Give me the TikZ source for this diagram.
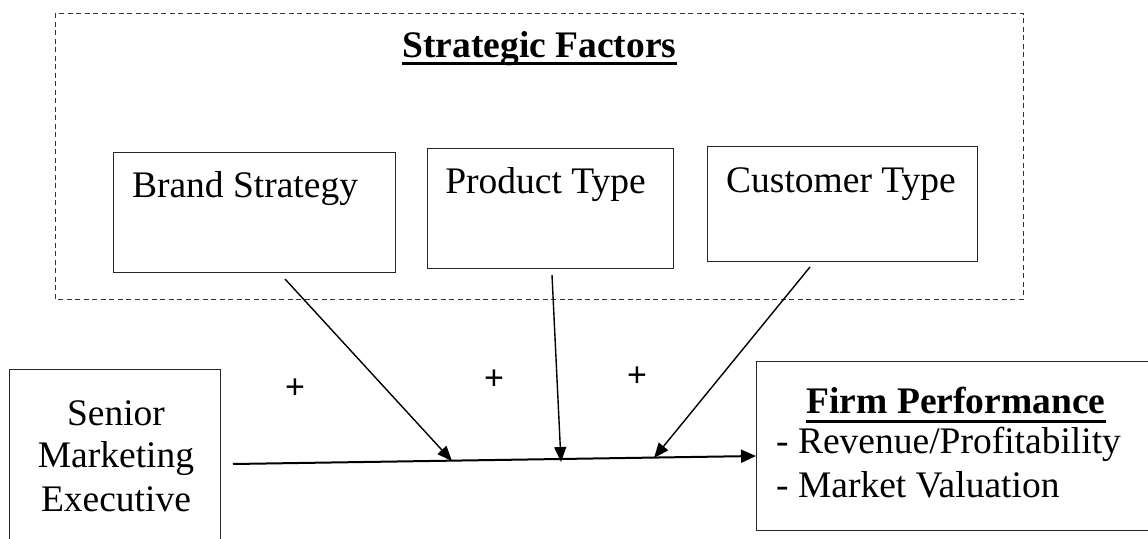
\documentclass[tikz,border=0pt]{standalone}
\usepackage{fontspec}
\setmainfont{Liberation Serif}
\newfontfamily\plusfont{Liberation Sans}
\usetikzlibrary{arrows.meta,calc}

\begin{document}
\begin{tikzpicture}[x=1pt,y=-1pt,
  box/.style={draw=black!85, line width=1.3pt, inner sep=0pt, anchor=north west},
  group/.style={draw=black!80, line width=1pt, dash pattern=on 5pt off 3.5pt},
  lbl/.style={inner sep=0pt, anchor=base, font=\fontsize{37.5}{44}\selectfont},
  lbll/.style={lbl, anchor=base west},
  head/.style={lbl, font=\fontsize{37.5}{44}\selectfont\bfseries},
  sign/.style={inner sep=0pt, anchor=base, font=\fontsize{34}{36}\selectfont\plusfont},
  link/.style={line width=1.4pt, -{Triangle[length=15pt, width=12pt]}},
  mainlink/.style={line width=2pt, -{Triangle[length=15pt, width=13pt]}},
  uline/.style={line width=3pt}
]
\useasboundingbox (0,0) rectangle (1148,538);

% strategic factors group
\draw[group] (55,13) rectangle (1023,299);
\node[head] (title) at (539.5,57) {Strategic Factors};
\draw[uline] ($(title.base west)+(0,6.5)$) -- ($(title.base east)+(0,6.5)$);

% factor boxes
\node[box, minimum width=282pt, minimum height=120pt] (brand) at (113,152) {};
\node[box, minimum width=246pt, minimum height=120pt] (product) at (427,148) {};
\node[box, minimum width=270pt, minimum height=115pt] (customer) at (707,146) {};
\node[lbl] (brandtxt) at (245,197) {Brand Strategy};
\node[lbl] (producttxt) at (545.5,193) {Product Type};
\node[lbl] (customertxt) at (841,192) {Customer Type};

% executive and performance boxes
\node[box, minimum width=211pt, minimum height=190pt] (exec) at (9,369) {};
\node[lbl] (exec1) at (116,425) {Senior};
\node[lbl] (exec2) at (116,467) {Marketing};
\node[lbl] (exec3) at (116,511) {Executive};

\node[box, minimum width=420pt, minimum height=169pt] (firm) at (756,361) {};
\node[head] (firmtitle) at (956,413) {Firm Performance};
\draw[uline] ($(firmtitle.base west)+(0,8)$) -- ($(firmtitle.base east)+(0,8)$);
\node[lbll] (firm1) at (776,453) {- Revenue/Profitability};
\node[lbll] (firm2) at (776,497) {- Market Valuation};

% main effect
\coordinate (ms) at (233,464);
\coordinate (me) at (756,456);
\draw[mainlink] (ms) -- (me);

% moderating effects
\coordinate (bs) at (285,279);
\coordinate (be) at (452,461);
\coordinate (ps) at (552,275);
\coordinate (pe) at (561,462);
\coordinate (cs) at (810,267);
\coordinate (ce) at (654,458);
\draw[link] (bs) -- (be);
\draw[link] (ps) -- (pe);
\draw[link] (cs) -- (ce);

\node[sign] (p1) at (295,398) {+};
\node[sign] (p2) at (494,389) {+};
\node[sign] (p3) at (637,386) {+};
\end{tikzpicture}
\end{document}
